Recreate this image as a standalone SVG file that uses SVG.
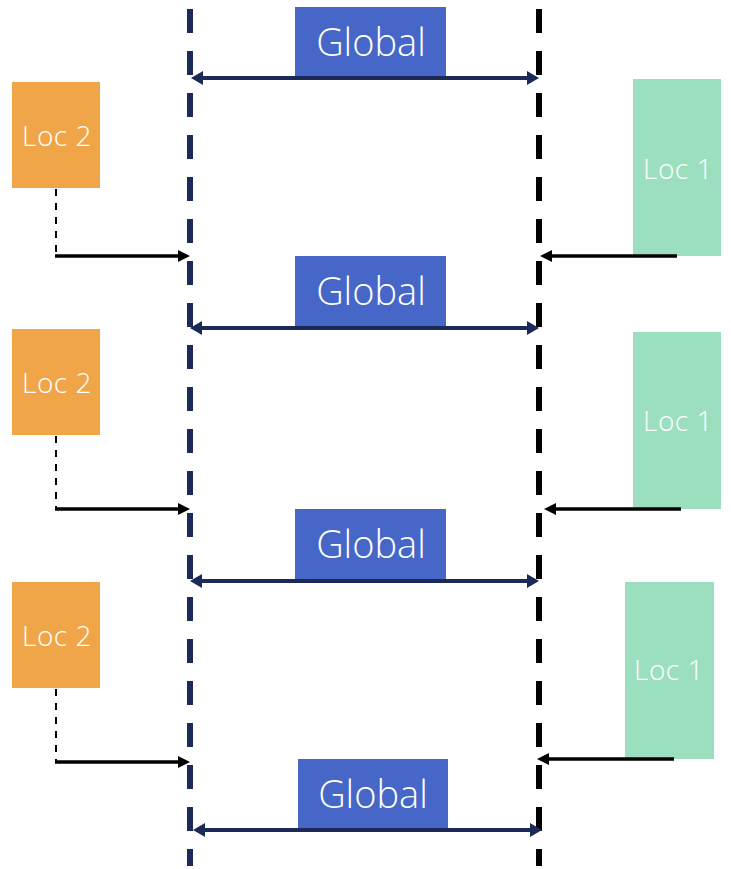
<svg xmlns="http://www.w3.org/2000/svg" width="731" height="869" viewBox="0 0 731 869">
<defs>
<style>
.global rect{fill:#4667c8}
.loc2 rect{fill:#f0a648}
.loc1 rect{fill:#9bdfbf}
text{font-family:"Open Sans","Liberation Sans",sans-serif;font-weight:300;fill:#ffffff;text-anchor:middle}
.gt{font-size:38px}
.lt{font-size:28px;letter-spacing:0.5px}
.axisL{stroke:#1b2a56;stroke-width:6;stroke-dasharray:24 18;fill:none}
.axisR{stroke:#000000;stroke-width:6;stroke-dasharray:24 18;fill:none}
.span{stroke:#1b2a56;stroke-width:4;fill:none;marker-start:url(#navyHead);marker-end:url(#navyHead)}
.flow{stroke:#000000;stroke-width:3.5;fill:none;marker-end:url(#blackHead)}
.drop{stroke:#000000;stroke-width:2;stroke-dasharray:7 7;fill:none}
</style>
<marker id="navyHead" viewBox="0 0 12 14" refX="6" refY="7" markerWidth="12" markerHeight="14" markerUnits="userSpaceOnUse" orient="auto-start-reverse">
<path d="M0,0 L12,7 L0,14 Z" fill="#1b2a56"/>
</marker>
<marker id="blackHead" viewBox="0 0 12 12" refX="6" refY="6" markerWidth="12" markerHeight="12" markerUnits="userSpaceOnUse" orient="auto">
<path d="M0,0 L12,6 L0,12 Z" fill="#000000"/>
</marker>
</defs>
<rect width="731" height="869" fill="#ffffff"/>

<g id="global1" class="global"><rect x="295" y="7" width="151" height="70"/><text class="gt" x="371" y="56">Global</text></g>
<g id="global2" class="global"><rect x="295" y="256" width="151" height="71"/><text class="gt" x="371" y="305">Global</text></g>
<g id="global3" class="global"><rect x="295" y="509" width="151" height="71"/><text class="gt" x="371" y="558">Global</text></g>
<g id="global4" class="global"><rect x="298" y="759" width="150" height="71"/><text class="gt" x="373" y="808">Global</text></g>

<g id="loc2a" class="loc2"><rect x="12" y="82" width="88" height="106"/><text class="lt" x="57" y="146">Loc 2</text></g>
<g id="loc2b" class="loc2"><rect x="12" y="329" width="88" height="106"/><text class="lt" x="57" y="393">Loc 2</text></g>
<g id="loc2c" class="loc2"><rect x="12" y="582" width="88" height="106"/><text class="lt" x="57" y="646">Loc 2</text></g>

<g id="loc1a" class="loc1"><rect x="633" y="79" width="88" height="177"/><text class="lt" x="678" y="179">Loc 1</text></g>
<g id="loc1b" class="loc1"><rect x="633" y="332" width="88" height="177"/><text class="lt" x="678" y="431">Loc 1</text></g>
<g id="loc1c" class="loc1"><rect x="625" y="582" width="89" height="177"/><text class="lt" x="669" y="680">Loc 1</text></g>

<g id="connectors">
<line class="axisL" x1="190" y1="9" x2="190" y2="866"/>
<line class="axisR" x1="539" y1="9" x2="539" y2="866"/>

<line class="span" x1="197" y1="78" x2="533" y2="78"/>
<line class="span" x1="196" y1="328" x2="533" y2="328"/>
<line class="span" x1="196" y1="581" x2="533" y2="581"/>
<line class="span" x1="199" y1="830" x2="536" y2="830"/>

<line class="drop" x1="56" y1="189" x2="56" y2="255"/>
<line class="drop" x1="56" y1="436" x2="56" y2="508"/>
<line class="drop" x1="56" y1="689" x2="56" y2="761"/>

<line class="flow" x1="55" y1="256" x2="184" y2="256"/>
<line class="flow" x1="55" y1="509" x2="184" y2="509"/>
<line class="flow" x1="55" y1="762" x2="184" y2="762"/>

<line class="flow" x1="677" y1="256" x2="546" y2="256"/>
<line class="flow" x1="681" y1="509" x2="550" y2="509"/>
<line class="flow" x1="674" y1="759" x2="543" y2="759"/>
</g>
</svg>
